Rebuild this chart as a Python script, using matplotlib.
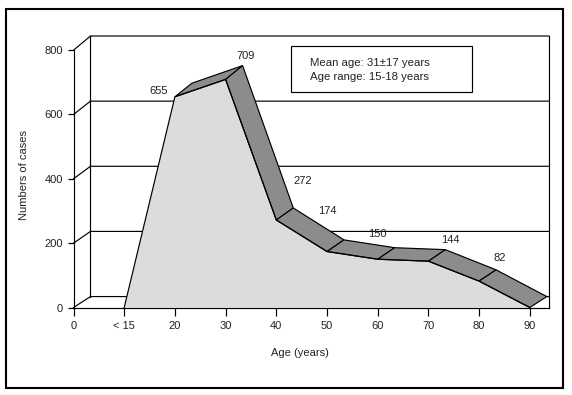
import matplotlib
matplotlib.use("Agg")
import matplotlib.pyplot as plt
from matplotlib.patches import Polygon, Rectangle

plt.rcParams['font.family'] = ['Liberation Sans', 'DejaVu Sans']

# data
x_labels = ["0", "< 15", "20", "30", "40", "50", "60", "70", "80", "90"]
y_ticks = [0, 200, 400, 600, 800]
positions = [1, 2, 3, 4, 5, 6, 7, 8, 9]
cases = [0, 655, 709, 272, 174, 150, 144, 82, 0]
shown_labels = ["655", "709", "272", "174", "150", "144", "82"]
# label offset from the front point, in pixels
label_offsets = [(-16, 6), (20, 23), (26, 39), (0, 41), (0, 25), (22, 21), (21, 23)]

W, H = 572, 395
LW = 0.85
DX = 0.335        # depth of the 3d effect, categories
DY = 34           # depth of the 3d effect, cases
BACK_SCALE = 1.0125

def back(v):
    return v * BACK_SCALE + DY

fig = plt.figure(figsize=(W / 100, H / 100), dpi=100)
left, right, top, bottom = 73.5, 548.7, 36, 307.5
ax = fig.add_axes([left / W, 1 - bottom / H, (right - left) / W, (bottom - top) / H])
ax.set_xlim(0, (right - left) / 50.7)
ax.set_ylim(0, back(800))
ax.patch.set_visible(False)
for s in ["top", "right"]:
    ax.spines[s].set_visible(False)
ax.spines["left"].set_bounds(0, 800)
ax.spines["left"].set_linewidth(LW)
ax.spines["bottom"].set_linewidth(LW)

# back wall
x_end = ax.get_xlim()[1]
for v in y_ticks:
    ax.plot([0, DX, x_end], [v, back(v), back(v)], color="black", lw=LW, zorder=1, clip_on=False)
ax.plot([DX, DX], [back(0), back(800)], color="black", lw=LW, zorder=1, clip_on=False)
ax.plot([x_end, x_end], [0, back(800)], color="black", lw=LW, zorder=1, clip_on=False)

# front face
front = [(p, c) for p, c in zip(positions, cases)]
ax.add_patch(Polygon(front, closed=True, facecolor="#dcdcdc", edgecolor="none", zorder=2))
ax.plot(positions, cases, color="black", lw=LW, zorder=4, clip_on=False)

# top faces
for i in range(1, len(positions) - 1):
    quad = [(positions[i], cases[i]), (positions[i + 1], cases[i + 1]),
            (positions[i + 1] + DX, back(cases[i + 1])), (positions[i] + DX, back(cases[i]))]
    ax.add_patch(Polygon(quad, closed=True, facecolor="#8c8c8c", edgecolor="black",
                         lw=LW, zorder=3, clip_on=False))

for p, c, t, off in zip(positions[1:], cases[1:], shown_labels, label_offsets):
    ax.annotate(t, (p, c), xytext=(off[0] * 0.72, off[1] * 0.72), textcoords="offset points",
                ha="center", va="center", fontsize=8, color="#222222", zorder=6)

ax.set_xticks(range(len(x_labels)))
ax.set_xticklabels(x_labels)
ax.set_yticks(y_ticks)
ax.tick_params(axis="x", length=6, width=LW, pad=4, labelsize=8, labelcolor="#222222")
ax.tick_params(axis="y", length=4.5, width=LW, pad=3, labelsize=8, labelcolor="#222222")

fig.text(300 / W, 1 - 353 / H, "Age (years)", ha="center", va="center", fontsize=8, color="#222222")
fig.text(24 / W, 1 - 175 / H, "Numbers of cases", ha="center", va="center", rotation=90,
         fontsize=8, color="#222222")

# note box
fig.add_artist(Rectangle((290.5 / W, 1 - 92 / H), 181 / W, 45.5 / H, transform=fig.transFigure,
                         facecolor="white", edgecolor="black", lw=LW))
fig.text(310 / W, 1 - 63.5 / H, "Mean age: 31±17 years", ha="left", va="center", fontsize=8.2, color="#222222")
fig.text(310 / W, 1 - 76.5 / H, "Age range: 15-18 years", ha="left", va="center", fontsize=8.2, color="#222222")

# outer frame
fig.add_artist(Rectangle((6 / W, 1 - 387.5 / H), 557 / W, 379 / H, transform=fig.transFigure,
                         facecolor="none", edgecolor="black", lw=1.5))

fig.savefig("out.png", dpi=100)
